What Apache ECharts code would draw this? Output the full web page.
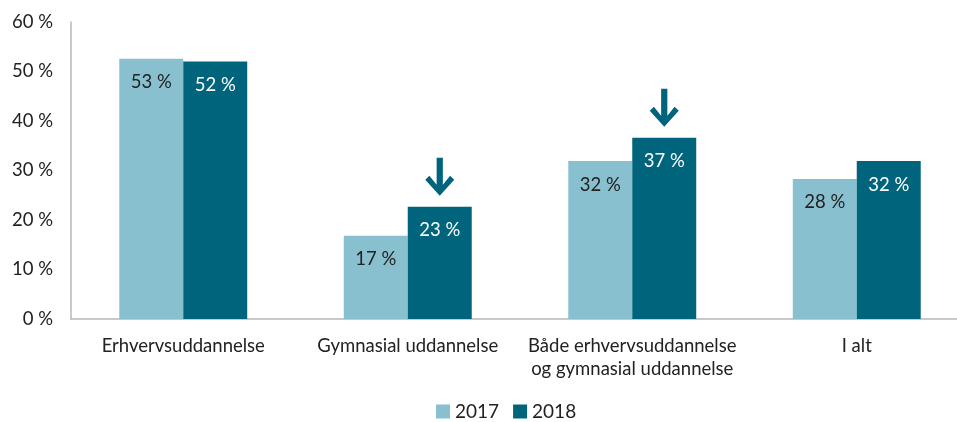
<!DOCTYPE html>
<html>
<head>
<meta charset="utf-8">
<script src="https://cdn.jsdelivr.net/npm/echarts@6/dist/echarts.min.js"></script>
<style>
  html, body { margin: 0; padding: 0; background: #fff; overflow: hidden; }
  /* a bit wider than the window: the original plot runs off the right edge */
  #chart { width: 969px; height: 422px; }
</style>
</head>
<body>
<div id="chart"></div>
<script>
  // data
  var categories = ['Erhvervsuddannelse', 'Gymnasial uddannelse', 'Både erhvervsuddannelse\nog gymnasial uddannelse', 'I alt'];
  var values2017 = [52.6, 16.8, 31.9, 28.3];
  var values2018 = [52.0, 22.7, 36.6, 31.9];
  var arrowCats = [1, 2]; // down arrows over the 2018 bars
  var yTicks = [0, 10, 20, 30, 40, 50, 60];

  var arrowPath = 'path://M11,0 L17,0 L17,27 L24,18 L28,22 L14,38 L0,22 L4,18 L11,27 Z';
  var font = 'Lato, "Open Sans", sans-serif';

  var chart = echarts.init(document.getElementById('chart'));

  var option = {
    backgroundColor: '#fff',
    textStyle: { fontFamily: font },
    color: ['#89c0cf', '#00657c'],
    grid: { left: 71, right: 0, top: 22, bottom: 103, containLabel: false },
    legend: {
      bottom: -4,
      left: 431,
      itemWidth: 14,
      itemHeight: 14,
      itemGap: 14,
      icon: 'rect',
      textStyle: { fontSize: 19, color: '#222', fontFamily: font },
      data: ['2017', '2018']
    },
    xAxis: {
      type: 'category',
      data: categories,
      axisTick: { show: false },
      axisLine: { lineStyle: { color: '#b8b8b8', width: 1.5 } },
      axisLabel: { color: '#222', fontSize: 18.5, margin: 16, lineHeight: 23, interval: 0 }
    },
    yAxis: {
      type: 'value',
      min: yTicks[0],
      max: yTicks[yTicks.length - 1],
      interval: 10,
      splitLine: { show: false },
      axisTick: { show: false },
      axisLine: { show: true, lineStyle: { color: '#b8b8b8', width: 1.5 } },
      axisLabel: { color: '#222', fontSize: 18.5, margin: 18, formatter: '{value} %' }
    },
    series: [{
      name: '2017',
      type: 'bar',
      data: values2017,
      barWidth: '28.5%',
      barGap: '0%',
      label: {
        show: true, position: 'insideTop', distance: 14,
        color: '#222', fontSize: 18.5,
        formatter: function (p) { return Math.round(p.value) + ' %'; }
      }
    }, {
      name: '2018',
      type: 'bar',
      data: values2018,
      barWidth: '28.5%',
      barGap: '0%',
      label: {
        show: true, position: 'insideTop', distance: 14,
        color: '#fff', fontSize: 18.5,
        formatter: function (p) { return Math.round(p.value) + ' %'; }
      },
      markPoint: {
        symbol: arrowPath,
        symbolSize: [29, 38],
        symbolOffset: [0, -30],
        itemStyle: { color: '#00657c' },
        label: { show: false },
        silent: true,
        data: arrowCats.map(function (i) {
          return { coord: [i, values2018[i]] };
        })
      }
    }]
  };

  chart.setOption(option);
</script>
</body>
</html>
